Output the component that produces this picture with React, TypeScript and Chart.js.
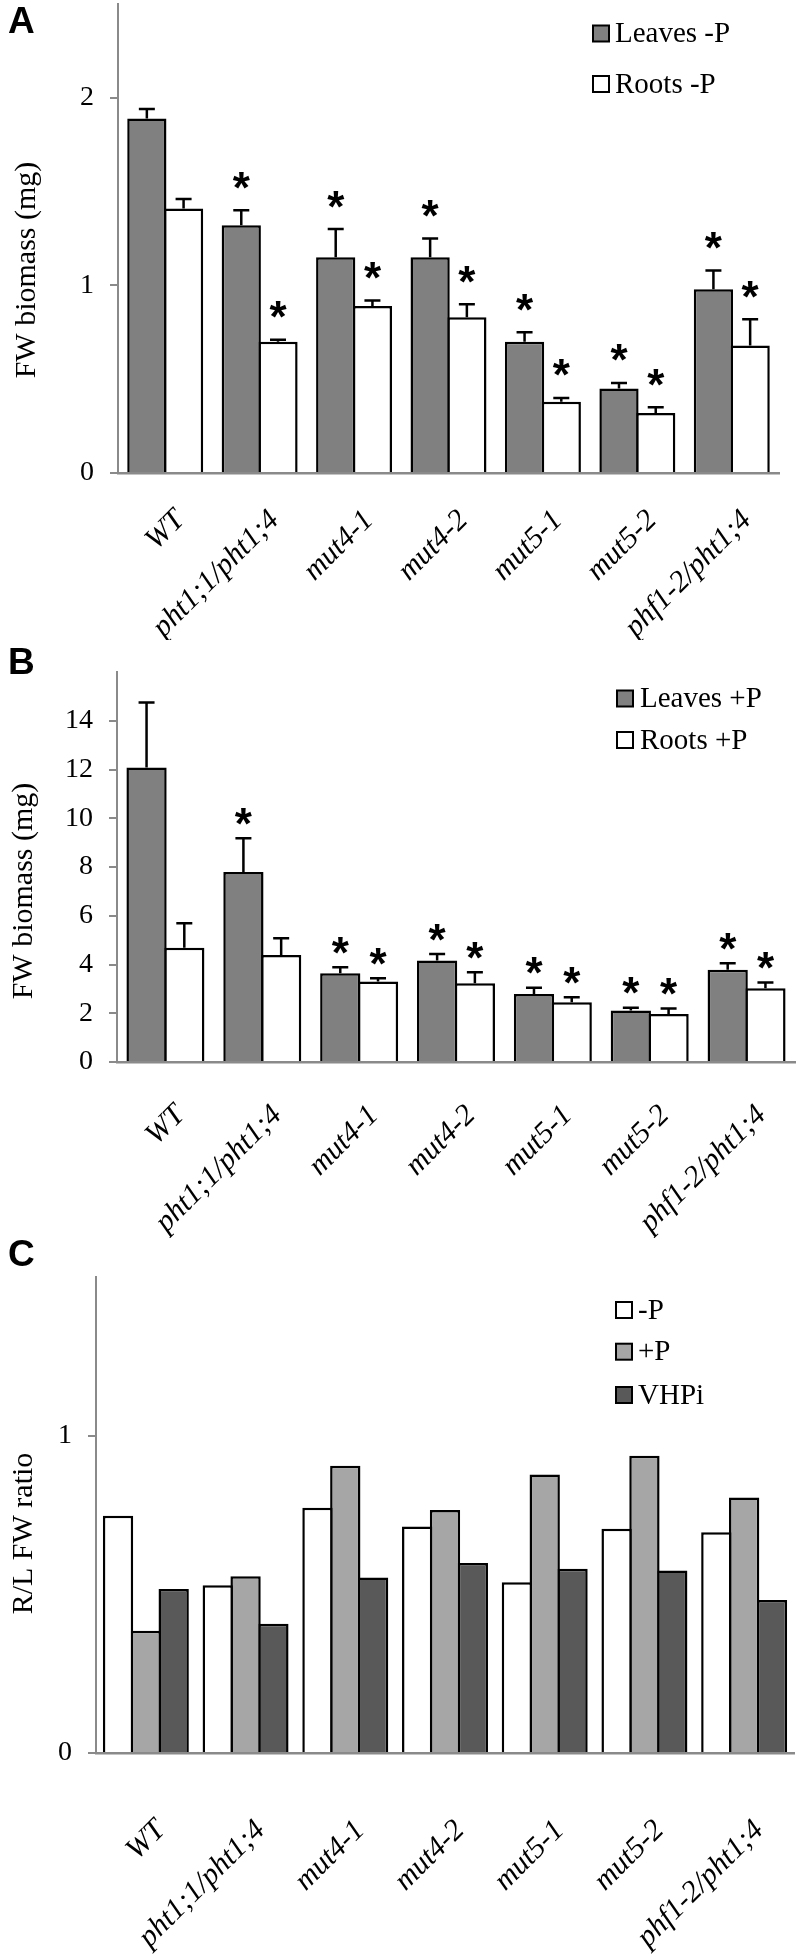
import React, { useEffect, useRef } from 'react';
import { Chart, registerables } from 'chart.js';

Chart.register(...registerables);

// ---------- data ----------
const categories = ['WT', 'pht1;1/pht1;4', 'mut4-1', 'mut4-2', 'mut5-1', 'mut5-2', 'phf1-2/pht1;4'];

// Panel A: -P
const leavesMinusP = [1.89, 1.32, 1.15, 1.15, 0.70, 0.45, 0.98];
const leavesMinusPErr = [0.05, 0.08, 0.15, 0.10, 0.05, 0.03, 0.10];
const rootsMinusP = [1.41, 0.70, 0.89, 0.83, 0.38, 0.32, 0.68];
const rootsMinusPErr = [0.05, 0.01, 0.03, 0.07, 0.02, 0.03, 0.14];
const sigLeavesMinusP = [false, true, true, true, true, true, true];
const sigRootsMinusP = [false, true, true, true, true, true, true];
const ticksA = [0, 1, 2];

// Panel B: +P
const leavesPlusP = [12.08, 7.79, 3.64, 4.16, 2.79, 2.11, 3.78];
const leavesPlusPErr = [2.67, 1.39, 0.25, 0.27, 0.26, 0.12, 0.27];
const rootsPlusP = [4.69, 4.39, 3.30, 3.23, 2.45, 1.97, 3.03];
const rootsPlusPErr = [1.00, 0.69, 0.14, 0.45, 0.21, 0.22, 0.23];
const sigLeavesPlusP = [false, true, true, true, true, true, true];
const sigRootsPlusP = [false, false, true, true, true, true, true];
const ticksB = [0, 2, 4, 6, 8, 10, 12, 14];

// Panel C: R/L ratio
const ratioMinusP = [0.748, 0.529, 0.773, 0.714, 0.538, 0.707, 0.696];
const ratioPlusP = [0.385, 0.557, 0.905, 0.766, 0.878, 0.937, 0.805];
const ratioVHPi = [0.517, 0.407, 0.553, 0.599, 0.581, 0.575, 0.482];
const ticksC = [0, 1];

// ---------- styles ----------
const SERIF = '"Liberation Serif", "Times New Roman", serif';
const SANS = '"Liberation Sans", Arial, sans-serif';
const AXIS = '#8a8a8a';
const DARK = '#808080';
const LIGHT_GRAY = '#a6a6a6';
const DARK_GRAY = '#595959';
const WHITE = '#ffffff';

type Panel = {
  letter: string;
  height: number;
  top: number;
  bottom: number;
  left: number;
  right: number;
  yMax: number;
  yTicks: number[];
  yTitle: string;
  titleX: number;
  titleY: number;
  letterBaseline: number;
  datasets: { label: string; data: number[]; color: string; err?: number[]; sig?: boolean[] }[];
  catPct: number;
  barPct: number;
  starOffset: number;
  labelPad: number;
  labelShift: number;
  legend: { x: number; textX: number; rows: number[] };
};

const annotPlugin = {
  id: 'annot',
  afterDatasetsDraw(chart: any, _args: any, opts: any) {
    const ctx = chart.ctx;
    const ys = chart.scales.y;
    const panel: Panel = opts.panel;
    panel.datasets.forEach((ds, di) => {
      if (!ds.err) return;
      const meta = chart.getDatasetMeta(di);
      meta.data.forEach((bar: any, j: number) => {
        const v = ds.data[j];
        const topPx = ys.getPixelForValue(v + ds.err![j]);
        ctx.save();
        ctx.strokeStyle = '#000';
        ctx.lineWidth = 2.5;
        ctx.beginPath();
        ctx.moveTo(bar.x, bar.y);
        ctx.lineTo(bar.x, topPx);
        ctx.moveTo(bar.x - 8, topPx);
        ctx.lineTo(bar.x + 8, topPx);
        ctx.stroke();
        if (ds.sig && ds.sig[j]) {
          ctx.fillStyle = '#000';
          ctx.font = 'bold 44px ' + SANS;
          ctx.textAlign = 'center';
          ctx.textBaseline = 'alphabetic';
          const m = ctx.measureText('*');
          const asc = m.actualBoundingBoxAscent;
          const desc = m.actualBoundingBoxDescent;
          const cy = topPx - panel.starOffset;
          ctx.fillText('*', bar.x, cy + (asc - desc) / 2);
        }
        ctx.restore();
      });
    });
  },
  afterDraw(chart: any, _args: any, opts: any) {
    const ctx = chart.ctx;
    const panel: Panel = opts.panel;
    ctx.save();
    // panel letter
    ctx.fillStyle = '#000';
    ctx.font = 'bold 37px ' + SANS;
    ctx.textAlign = 'left';
    ctx.textBaseline = 'alphabetic';
    ctx.fillText(panel.letter, 8, panel.letterBaseline);
    // y title
    ctx.save();
    ctx.translate(panel.titleX, panel.titleY);
    ctx.rotate(-Math.PI / 2);
    ctx.font = '30px ' + SERIF;
    ctx.textAlign = 'center';
    ctx.textBaseline = 'middle';
    ctx.fillText(panel.yTitle, 0, 0);
    ctx.restore();
    // legend
    panel.datasets.forEach((ds, i) => {
      const cy = panel.legend.rows[i];
      ctx.fillStyle = ds.color;
      ctx.fillRect(panel.legend.x, cy - 8, 16, 16);
      ctx.strokeStyle = '#000';
      ctx.lineWidth = 2;
      ctx.strokeRect(panel.legend.x, cy - 8, 16, 16);
      ctx.fillStyle = '#000';
      ctx.font = '29px ' + SERIF;
      ctx.textAlign = 'left';
      ctx.textBaseline = 'middle';
      ctx.fillText(ds.label, panel.legend.textX, cy + 1);
    });
    ctx.restore();
  },
};

function buildConfig(p: Panel, width: number): any {
  return {
    type: 'bar',
    data: {
      labels: categories,
      datasets: p.datasets.map((d) => ({
        label: d.label,
        data: d.data,
        backgroundColor: d.color,
        borderColor: '#000',
        borderWidth: 2.5,
        borderSkipped: 'start',
        categoryPercentage: p.catPct,
        barPercentage: p.barPct,
      })),
    },
    options: {
      animation: false,
      responsive: false,
      devicePixelRatio: 1,
      layout: { padding: { top: p.top, right: width - p.right, left: 0, bottom: 0 } },
      plugins: {
        legend: { display: false },
        tooltip: { enabled: false },
        annot: { panel: p },
      },
      scales: {
        x: {
          grid: { display: false },
          border: { display: true, color: AXIS, width: 2.5, z: 1 },
          ticks: {
            color: '#000',
            font: { family: SERIF, size: 30, style: 'italic' },
            minRotation: 45,
            maxRotation: 45,
            autoSkip: false,
            padding: p.labelPad,
            labelOffset: p.labelShift,
          },
          afterFit(s: any) {
            s.height = p.height - p.bottom;
            s.paddingLeft = 0;
            s.paddingRight = 0;
          },
        },
        y: {
          min: 0,
          max: p.yMax,
          ticks: { color: '#000', font: { family: SERIF, size: 28 }, padding: 16 },
          grid: { drawOnChartArea: false, drawTicks: true, tickLength: 8, color: AXIS, lineWidth: 2 },
          border: { display: true, color: AXIS, width: 2 },
          afterBuildTicks(s: any) {
            s.ticks = p.yTicks.map((v) => ({ value: v }));
          },
          afterFit(s: any) {
            s.width = p.left;
            s.paddingTop = 0;
            s.paddingBottom = 0;
          },
        },
      },
    },
    plugins: [annotPlugin],
  };
}

const W = 797;
const TOP_A = 0;
const TOP_B = 640;
const TOP_C = 1238;

const panelA: Panel = {
  letter: 'A',
  height: TOP_B - TOP_A,
  top: 4,
  bottom: 473,
  left: 118,
  right: 779,
  yMax: 2.5,
  yTicks: ticksA,
  yTitle: 'FW biomass (mg)',
  titleX: 27,
  titleY: 270,
  letterBaseline: 33,
  datasets: [
    { label: 'Leaves -P', data: leavesMinusP, color: DARK, err: leavesMinusPErr, sig: sigLeavesMinusP },
    { label: 'Roots -P', data: rootsMinusP, color: WHITE, err: rootsMinusPErr, sig: sigRootsMinusP },
  ],
  catPct: 0.778,
  barPct: 1.068,
  starOffset: 30,
  labelPad: 22,
  labelShift: 15,
  legend: { x: 593, textX: 615, rows: [33.5, 84] },
};

const panelB: Panel = {
  letter: 'B',
  height: TOP_C - TOP_B,
  top: 672 - TOP_B,
  bottom: 1062 - TOP_B,
  left: 117,
  right: 795,
  yMax: 16,
  yTicks: ticksB,
  yTitle: 'FW biomass (mg)',
  titleX: 24,
  titleY: 891 - TOP_B,
  letterBaseline: 674 - TOP_B,
  datasets: [
    { label: 'Leaves +P', data: leavesPlusP, color: DARK, err: leavesPlusPErr, sig: sigLeavesPlusP },
    { label: 'Roots +P', data: rootsPlusP, color: WHITE, err: rootsPlusPErr, sig: sigRootsPlusP },
  ],
  catPct: 0.7795,
  barPct: 1.066,
  starOffset: 22,
  labelPad: 28,
  labelShift: 15,
  legend: { x: 617, textX: 640, rows: [698.5 - TOP_B, 740 - TOP_B] },
};

const panelC: Panel = {
  letter: 'C',
  height: 1957 - TOP_C,
  top: 1277 - TOP_C,
  bottom: 1753 - TOP_C,
  left: 96,
  right: 794,
  yMax: 1.5,
  yTicks: ticksC,
  yTitle: 'R/L FW ratio',
  titleX: 24,
  titleY: 1533.5 - TOP_C,
  letterBaseline: 1266 - TOP_C,
  datasets: [
    { label: '-P', data: ratioMinusP, color: WHITE },
    { label: '+P', data: ratioPlusP, color: LIGHT_GRAY },
    { label: 'VHPi', data: ratioVHPi, color: DARK_GRAY },
  ],
  catPct: 0.837,
  barPct: 1.09,
  starOffset: 0,
  labelPad: 52,
  labelShift: 15,
  legend: { x: 616, textX: 638, rows: [1310 - TOP_C, 1351.7 - TOP_C, 1395 - TOP_C] },
};

function PanelChart({ panel, top }: { panel: Panel; top: number }) {
  const ref = useRef<HTMLCanvasElement | null>(null);
  useEffect(() => {
    if (!ref.current) return;
    const chart = new Chart(ref.current, buildConfig(panel, W));
    return () => chart.destroy();
  }, [panel]);
  return (
    <canvas
      ref={ref}
      width={W}
      height={panel.height}
      style={{ position: 'absolute', left: 0, top, width: W, height: panel.height }}
    />
  );
}

export default function App() {
  return (
    <div style={{ position: 'absolute', left: 0, top: 0, width: W, height: 1957, background: '#fff' }}>
      <PanelChart panel={panelA} top={TOP_A} />
      <PanelChart panel={panelB} top={TOP_B} />
      <PanelChart panel={panelC} top={TOP_C} />
    </div>
  );
}
